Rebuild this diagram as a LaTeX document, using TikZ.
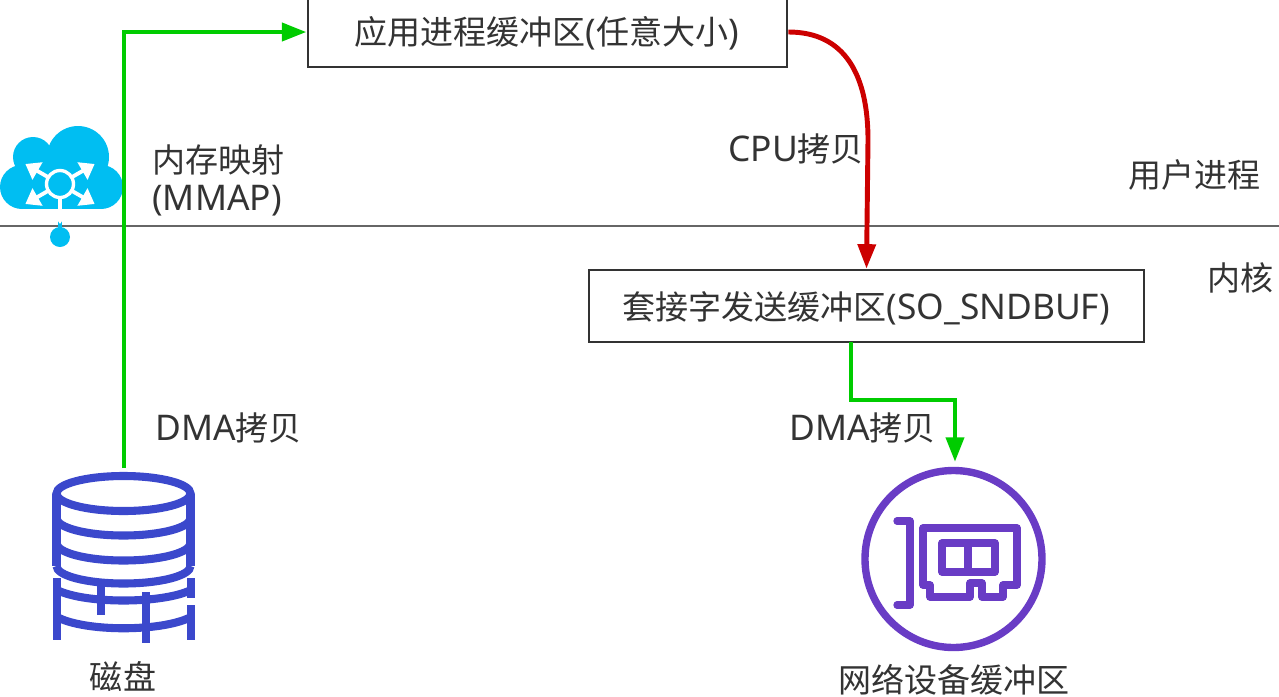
\documentclass[tikz,border=0pt]{standalone}
\usepackage{fontspec}
\setmainfont[Scale=1.07]{Noto Sans}
\newfontfamily\cjk{Noto Sans CJK SC}
\usetikzlibrary{arrows.meta}
\definecolor{dmagreen}{HTML}{00CC00}
\definecolor{cpured}{HTML}{CC0000}
\definecolor{cloudblue}{HTML}{00BEF2}
\definecolor{diskblue}{HTML}{3B48CC}
\definecolor{nicpurple}{HTML}{693CC5}
\definecolor{labelgray}{HTML}{333333}
\tikzset{
    bufbox/.style={draw=labelgray, line width=1.4pt, fill=white, inner sep=0pt},
    lbl/.style={text=labelgray, font=\fontsize{18.8}{22}\selectfont, inner sep=0pt},
    dmaline/.style={draw=dmagreen, line width=2.8pt, ->, >={Stealth[length=14pt,width=10pt,inset=0pt]}},
    cpuline/.style={draw=cpured, line width=2.8pt, ->, >={Stealth[length=14pt,width=10pt,inset=0pt]}},
    diskline/.style={draw=diskblue, line width=4.6pt},
    nicline/.style={draw=nicpurple, line width=4.2pt, line join=round, line cap=round},
}
\begin{document}
\begin{tikzpicture}[x=0.02cm, y=-0.02cm]

    \clip (0,0) rectangle (1279,697);

    % kernel / user boundary
    \draw[color=black!60, line width=1.4pt] (0,226) -- (1279,226);

    % cloud
    \fill[cloudblue] (78,157) circle (31);
    \fill[cloudblue] (33,157) circle (20);
    \fill[cloudblue] (22,187) circle (22);
    \fill[cloudblue] (101,187) circle (22);
    \fill[cloudblue] (22,160) rectangle (101,209);
    \draw[cloudblue, line width=2.6pt] (60,209) -- (60,237);
    \fill[cloudblue] (60,237) circle (10);
    \foreach \ang in {30,90,150,210,330}
        \draw[white, line width=2.2pt, -{Stealth[length=8pt,width=11pt,inset=0pt]}] (60,184) ++(\ang:14) -- ++(\ang:26);
    \draw[white, line width=2.2pt] (60,198) -- (60,209);
    \draw[white, line width=1.9pt] (60,184) circle (13.5);

    % disk
    \draw[diskline] (123.5,493.5) ellipse (67 and 17.5);
    \draw[diskline] (56.5,493.5) -- (56.5,566);
    \draw[diskline] (190.5,493.5) -- (190.5,566);
    \foreach \ypos in {518,543,566}
        \draw[diskline] (56.5,\ypos) arc[start angle=180, end angle=0, x radius=67, y radius=17.5];
    \draw[diskline] (57,578) -- (57,640);
    \draw[diskline] (191,578) -- (191,598);
    \draw[diskline] (191,605) -- (191,640);
    \draw[diskline] (101,583) -- (101,615);
    \draw[diskline] (146,592) -- (146,643);
    \draw[diskline] (57,590) .. controls (85,604) and (162,604) .. (191,590);
    \draw[diskline] (57,617) .. controls (85,632) and (162,632) .. (191,617);

    % network card
    \draw[nicline] (953.5,559) circle (88.5);
    \draw[nicline] (897,521) -- (910,521) -- (910,605) -- (897,605);
    \draw[nicline] (923,528) -- (1017,528) -- (1017,585) -- (1003,585) -- (1003,597) -- (982,597) -- (982,583) -- (970,583) -- (970,597) -- (930,597) -- (930,585) -- (923,585) -- cycle;
    \draw[nicline] (942,543) rectangle (995,572);
    \draw[nicline] (968,543) -- (968,572);

    % buffers
    \node[bufbox, minimum width=9.59cm, minimum height=1.4cm] (appbuf) at (547.5,32) {};
    \node[lbl] (appbuflbl) at (547,33) {{\cjk 应用进程缓冲区}({\cjk 任意大小})};
    \node[bufbox, minimum width=11.1cm, minimum height=1.44cm] (sockbuf) at (866.5,306) {};
    \node[lbl] (sockbuflbl) at (866.5,308) {{\cjk 套接字发送缓冲区}(SO\_SNDBUF)};

    % labels
    \node[lbl, anchor=west] (mmaplbl) at (152,160) {\cjk 内存映射};
    \node[lbl, anchor=west] (mmapname) at (152,201) {(MMAP)};
    \node[lbl, anchor=west] (dmalbla) at (155,428) {DMA{\cjk 拷贝}};
    \node[lbl, anchor=west] (cpulbl) at (728,149) {CPU{\cjk 拷贝}};
    \node[lbl, anchor=west] (dmalblb) at (789,428) {DMA{\cjk 拷贝}};
    \node[lbl, anchor=west] (userlbl) at (1128,175) {\cjk 用户进程};
    \node[lbl, anchor=west] (kernlbl) at (1207,278) {\cjk 内核};
    \node[lbl] (disklbl) at (123,676) {\cjk 磁盘};
    \node[lbl] (niclbl) at (954,679.5) {\cjk 网络设备缓冲区};

    % copies
    \coordinate (diskout) at (124,468);
    \coordinate (sockout) at (851,342);
    \coordinate (nicin) at (955,462);
    \draw[dmaline] (diskout) |- (appbuf.west);
    \draw[cpuline] (appbuf.east) .. controls (845,32) and (868,75) .. (868,140) -- (sockbuf.north);
    \draw[dmaline] (sockout) -- (851,400) -| (nicin);

\end{tikzpicture}
\end{document}
